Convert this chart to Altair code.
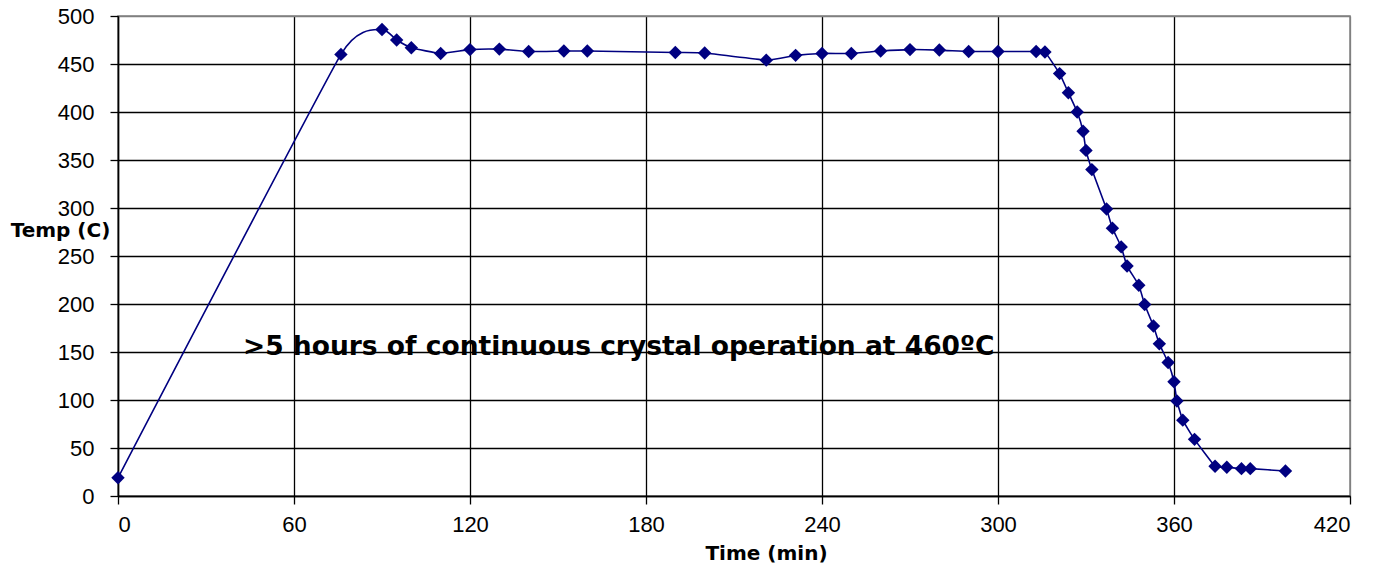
import altair as alt
import pandas as pd

time_min = [0, 76, 90, 95, 100, 110, 120, 130, 140, 152, 160, 190, 200, 221, 231,
            240, 250, 260, 270, 280, 290, 300, 313, 316, 321, 324, 327, 329, 330,
            332, 337, 339, 342, 344, 348, 350, 353, 355, 358, 360, 361, 363, 367,
            374, 378, 383, 386, 398]
temp_c = [19, 460, 486, 475, 467, 461, 465, 465.5, 463, 463.5, 463.5, 462, 461.5,
          454, 459, 461, 461, 463.5, 465, 464.5, 463, 463, 463, 462.5, 440, 420,
          400, 380, 360, 340, 299, 279, 259.5, 239.5, 219.5, 199.5, 177, 158.5,
          139, 119, 99, 79, 59, 31, 30, 28.5, 28.5, 26]

x_ticks = [0, 60, 120, 180, 240, 300, 360, 420]
y_ticks = [0, 50, 100, 150, 200, 250, 300, 350, 400, 450, 500]

note_text = [">5 hours of continuous crystal operation at 460\u00baC"]
note_time = [42.6]
note_temp = [155]

df = pd.DataFrame({"t": time_min, "T": temp_c})
note_df = pd.DataFrame({"label": note_text, "t": note_time, "T": note_temp})

FONT = "Liberation Sans"
BOLDFONT = "DejaVu Sans"
NAVY = "#000080"

x_enc = alt.X(
    "t:Q",
    scale=alt.Scale(domain=[0, 420], nice=False, zero=False),
    axis=alt.Axis(
        values=x_ticks, title="Time (min)", grid=True,
        gridColor={"condition": {"test": "datum.value == 420", "value": "#808080"}, "value": "#000000"},
        gridWidth=1.3, domainColor="#000000", domainWidth=1.5,
        tickColor="#000000", tickSize=8, tickWidth=1.3,
        labelFont=FONT, labelFontSize=22, labelColor="#000000", labelPadding=10,
        titleFont=BOLDFONT, titleFontSize=20, titleFontWeight="bold", titleColor="#000000",
        titleX=648, titleY=57, titleAlign="center", titleBaseline="middle",
    ),
)
y_enc = alt.Y(
    "T:Q",
    scale=alt.Scale(domain=[0, 500], nice=False, zero=False),
    axis=alt.Axis(
        values=y_ticks, title="Temp (C)", grid=True,
        gridColor={"condition": {"test": "datum.value == 500", "value": "#808080"}, "value": "#000000"},
        gridWidth=1.3, domainColor="#000000", domainWidth=1.5,
        tickColor="#000000", tickSize=8, tickWidth=1.3,
        labelFont=FONT, labelFontSize=22, labelColor="#000000", labelPadding=16,
        titleFont=BOLDFONT, titleFontSize=20, titleFontWeight="bold", titleColor="#000000",
        titleAngle=0, titleX=-58, titleY=214, titleAlign="center", titleBaseline="middle",
    ),
)

line = alt.Chart(df).mark_line(color=NAVY, strokeWidth=1.6, interpolate="cardinal", tension=0.6).encode(
    x=x_enc, y=y_enc
)
pts = alt.Chart(df).mark_point(shape="diamond", filled=True, size=180, color=NAVY, opacity=1).encode(
    x="t:Q", y="T:Q"
)
note = alt.Chart(note_df).mark_text(
    font=BOLDFONT, fontSize=26.5, fontWeight="bold", color="#000000", align="left", baseline="middle"
).encode(x="t:Q", y="T:Q", text="label:N")

chart = alt.layer(line, pts, note).properties(
    width=1232, height=480,
    autosize=alt.AutoSizeParams(type="none"),
    padding={"left": 110, "top": 8, "right": 20, "bottom": 72},
    background="#ffffff",
).configure_view(stroke="#808080", strokeWidth=1.5)

chart.save("out.html", embed_options={"renderer": "svg", "actions": False})
